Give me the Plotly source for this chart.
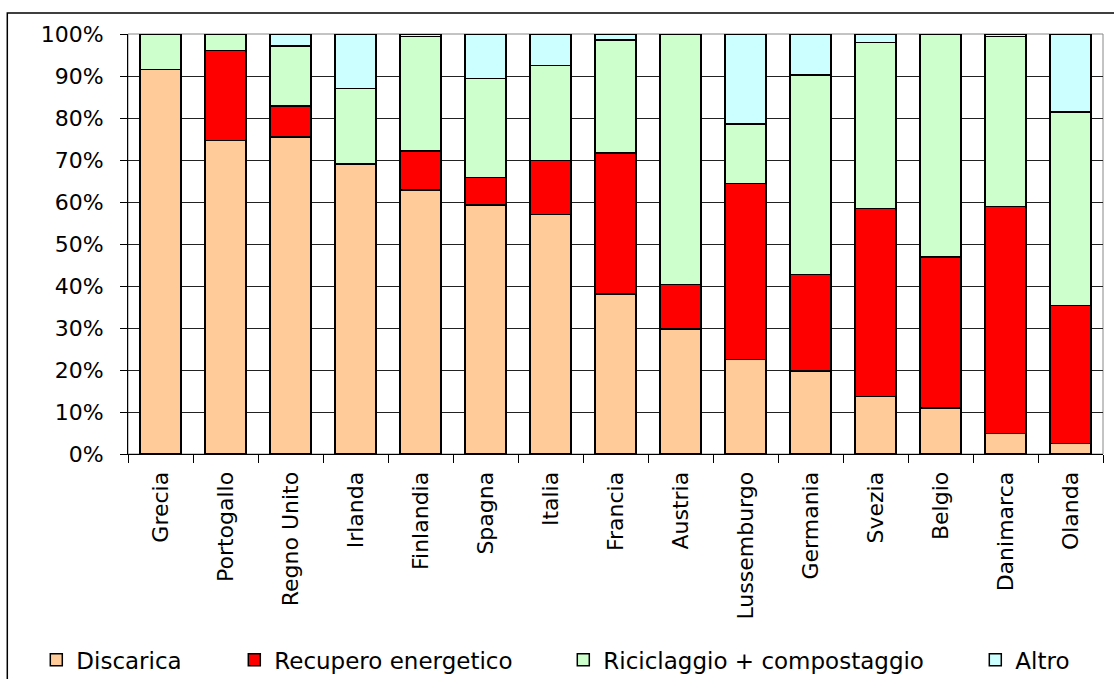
import plotly.graph_objects as go

# Municipal waste management by country (share of total, %)
paesi = ["Grecia", "Portogallo", "Regno Unito", "Irlanda", "Finlandia", "Spagna",
         "Italia", "Francia", "Austria", "Lussemburgo", "Germania", "Svezia",
         "Belgio", "Danimarca", "Olanda"]

discarica = [91.5, 74.6, 75.5, 69.0, 62.9, 59.3, 57.0, 38.1, 29.8, 22.5, 19.8, 13.7, 11.0, 4.9, 2.5]
recupero_energetico = [0.0, 21.5, 7.3, 0.0, 9.2, 6.5, 12.9, 33.6, 10.6, 41.9, 22.9, 44.7, 35.9, 54.0, 32.9]
riciclaggio_compostaggio = [8.5, 3.9, 14.3, 18.0, 27.3, 23.6, 22.6, 26.9, 59.6, 14.2, 47.5, 39.6, 53.1, 40.5, 46.0]
altro = [0.0, 0.0, 2.9, 13.0, 0.6, 10.6, 7.5, 1.4, 0.0, 21.4, 9.8, 2.0, 0.0, 0.6, 18.6]

y_ticks = [0, 10, 20, 30, 40, 50, 60, 70, 80, 90, 100]
y_tick_labels = ["0%", "10%", "20%", "30%", "40%", "50%", "60%", "70%", "80%", "90%", "100%"]

FONT = "DejaVu Sans"

serie = [
    ("Discarica", discarica, "#FFCC99", "legend"),
    ("Recupero energetico", recupero_energetico, "#FF0000", "legend2"),
    ("Riciclaggio + compostaggio", riciclaggio_compostaggio, "#CCFFCC", "legend3"),
    ("Altro", altro, "#CCFFFF", "legend4"),
]

fig = go.Figure()
for nome, valori, colore, leg in serie:
    fig.add_trace(go.Bar(
        x=paesi, y=valori, name=nome, width=0.63,
        marker=dict(color=colore, line=dict(color="black", width=1.5)),
        legend=leg,
    ))

W, H = 1114, 679
L, R, T, B = 127.7, 11.3, 34.3, 225.0
pw = W - L - R
ph = H - T - B


def px_x(x):
    return (x - L) / pw


def px_y(y):
    return (H - B - y) / ph


leg_common = dict(
    orientation="h", yanchor="middle", xanchor="left",
    y=px_y(659.6), font=dict(family=FONT, size=23, color="black"),
    bgcolor="rgba(0,0,0,0)", borderwidth=0, itemwidth=30,
)

fig.update_layout(
    width=W, height=H,
    margin=dict(l=L, r=R, t=T, b=B, autoexpand=False),
    barmode="stack",
    bargap=0.37,
    paper_bgcolor="white",
    plot_bgcolor="white",
    font=dict(family=FONT, size=22, color="black"),
    showlegend=True,
    legend=dict(x=px_x(36), **leg_common),
    legend2=dict(x=px_x(234), **leg_common),
    legend3=dict(x=px_x(563), **leg_common),
    legend4=dict(x=px_x(975), **leg_common),
    xaxis=dict(
        type="category",
        tickangle=-90,
        tickson="boundaries",
        ticks="outside", ticklen=8, tickcolor="black", tickwidth=1,
        showline=True, linecolor="black", linewidth=1,
        showgrid=False,
        tickfont=dict(family=FONT, size=22, color="black"),
        ticklabelstandoff=8,
    ),
    yaxis=dict(
        range=[0, 100],
        tickmode="array",
        tickvals=y_ticks,
        ticktext=y_tick_labels,
        ticks="outside", ticklen=7, tickcolor="black", tickwidth=1,
        showline=True, linecolor="black", linewidth=1,
        showgrid=True, gridcolor="#222222", gridwidth=1,
        zeroline=False,
        tickfont=dict(family=FONT, size=22, color="black"),
        ticklabelstandoff=12,
    ),
    shapes=[
        # plot area frame (grey)
        dict(type="rect", xref="paper", yref="paper", x0=0, x1=1, y0=0, y1=1,
             line=dict(color="#888888", width=1), layer="below"),
        # outer chart border
        dict(type="rect", xref="paper", yref="paper",
             x0=px_x(7), x1=px_x(1125), y0=px_y(13.3), y1=px_y(700),
             line=dict(color="black", width=1.5), layer="above"),
    ],
)

fig.write_html("out.html")
